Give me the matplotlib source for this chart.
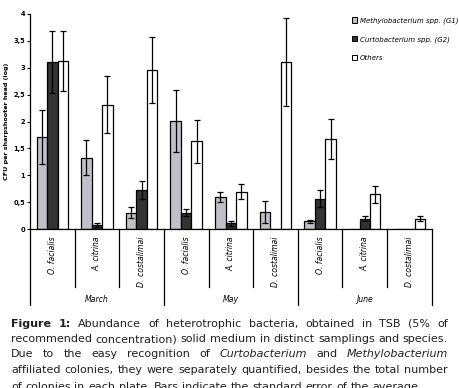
import numpy as np
import matplotlib.pyplot as plt
from matplotlib.transforms import blended_transform_factory
from matplotlib.patches import Patch

plt.rcParams['font.family'] = ['DejaVu Sans']

# data (log CFU per head)
months = ['March', 'May', 'June']
species = ['O. facialis', 'A. citrina', 'D. costalimai']
g1 = [1.72, 1.33, 0.31, 2.01, 0.60, 0.32, 0.15, 0, 0]
g1_err = [0.50, 0.32, 0.10, 0.57, 0.09, 0.20, 0.03, 0, 0]
g2 = [3.10, 0.08, 0.73, 0.31, 0.11, 0, 0.57, 0.20, 0]
g2_err = [0.58, 0.03, 0.17, 0.06, 0.04, 0, 0.15, 0.05, 0]
others = [3.12, 2.31, 2.96, 1.63, 0.70, 3.10, 1.67, 0.65, 0.20]
others_err = [0.56, 0.53, 0.61, 0.40, 0.14, 0.82, 0.37, 0.16, 0.05]
legend_labels = ['Methylobacterium spp. (G1)', 'Curtobacterium spp. (G2)', 'Others']
ytick_labels = ['0', '0,5', '1', '1,5', '2', '2,5', '3', '3,5', '4']

W, H = 460, 388
fig = plt.figure(figsize=(W / 100, H / 100), dpi=100)
ax = fig.add_axes([30 / W, 1 - 229.3 / H, 401.7 / W, 215.6 / H])

x = np.arange(len(g1))
w = 0.235
colors = ['#c1bfc7', '#333333', 'white']
series = [(g1, g1_err), (g2, g2_err), (others, others_err)]
for i, (vals, errs) in enumerate(series):
    pos = x + (i - 1) * w
    ax.bar(pos, vals, w, color=colors[i], edgecolor='black', linewidth=0.9)
    v = np.array(vals)
    e = np.array(errs)
    m = v > 0
    ax.errorbar(pos[m], v[m], yerr=e[m], fmt='none', ecolor='black',
                elinewidth=0.9, capsize=2.3, capthick=0.9)

ax.set_xlim(-0.5, len(g1) - 0.5)
ax.set_ylim(0, 4)
ax.set_yticks(np.arange(0, 4.01, 0.5))
ax.set_yticklabels(ytick_labels, fontsize=4.8, fontweight='bold')
ax.tick_params(axis='y', length=2, width=0.8, pad=1.5)
ax.set_xticks([])
for s in ['top', 'right']:
    ax.spines[s].set_visible(False)
ax.spines['left'].set_linewidth(0.9)
ax.spines['bottom'].set_linewidth(0.9)
ax.set_ylabel('CFU per sharpshooter head (log)', fontsize=4.6, fontweight='bold', labelpad=3)

# category labels and divider lines below the axis
trans = blended_transform_factory(ax.transData, ax.transAxes)
for k in range(len(g1)):
    ax.text(k, -0.035, species[k % 3], transform=trans, rotation=90,
            ha='center', va='top', fontsize=5.6, fontstyle='italic')
for k in range(len(g1) + 1):
    low = -0.351 if k % 3 == 0 else -0.268
    ax.plot([k - 0.5, k - 0.5], [0, low], transform=trans, color='black',
            linewidth=0.9, clip_on=False)
for j, mth in enumerate(months):
    ax.text(3 * j + 1, -0.324, mth, transform=trans, ha='center', va='center',
            fontsize=5.6, fontstyle='italic')

handles = [Patch(facecolor=c, edgecolor='black', linewidth=0.7) for c in colors]
leg = ax.legend(handles, legend_labels, loc='upper left', bbox_to_anchor=(0.785, 1.012),
                frameon=False, prop={'size': 5.0, 'style': 'italic'},
                handlelength=0.8, handleheight=0.8, handletextpad=0.4, labelspacing=1.75)

# caption, justified like the original
caption = [
    [('Figure 1:', 'bold', 'normal'), ('Abundance of heterotrophic bacteria, obtained in TSB (5% of', 'normal', 'normal')],
    [('recommended concentration) solid medium in distinct samplings and species.', 'normal', 'normal')],
    [('Due to the easy recognition of', 'normal', 'normal'), ('Curtobacterium', 'normal', 'italic'),
     ('and', 'normal', 'normal'), ('Methylobacterium', 'normal', 'italic')],
    [('affiliated colonies, they were separately quantified, besides the total number', 'normal', 'normal')],
    [('of colonies in each plate. Bars indicate the standard error of the average.', 'normal', 'normal')],
]
baselines = [326.8, 342.0, 357.4, 372.8, 389.5]
left, right = 11, 448
renderer = fig.canvas.get_renderer()

# size the caption font so the naturally full second line spans the column
probe = fig.text(0, 0, caption[1][0][0], fontsize=10)
fs = 10 * (right - left) / probe.get_window_extent(renderer).width
probe.remove()

p1 = fig.text(0, 0, 'a a', fontsize=fs)
p2 = fig.text(0, 0, 'aa', fontsize=fs)
space = p1.get_window_extent(renderer).width - p2.get_window_extent(renderer).width
p1.remove()
p2.remove()

for li, line in enumerate(caption):
    words = []
    for text, weight, style in line:
        for wd in text.split():
            t = fig.text(0, 0, wd, fontsize=fs, fontweight=weight, fontstyle=style,
                         color='#231f20', va='baseline', ha='left')
            words.append(t)
    widths = [t.get_window_extent(renderer).width for t in words]
    if li < len(caption) - 1:
        gap = (right - left - sum(widths)) / (len(words) - 1)
    else:
        gap = space
    xp = left
    for t, wdt in zip(words, widths):
        t.set_position((xp / W, 1 - baselines[li] / H))
        xp += wdt + gap

fig.savefig('out.png', dpi=100)
